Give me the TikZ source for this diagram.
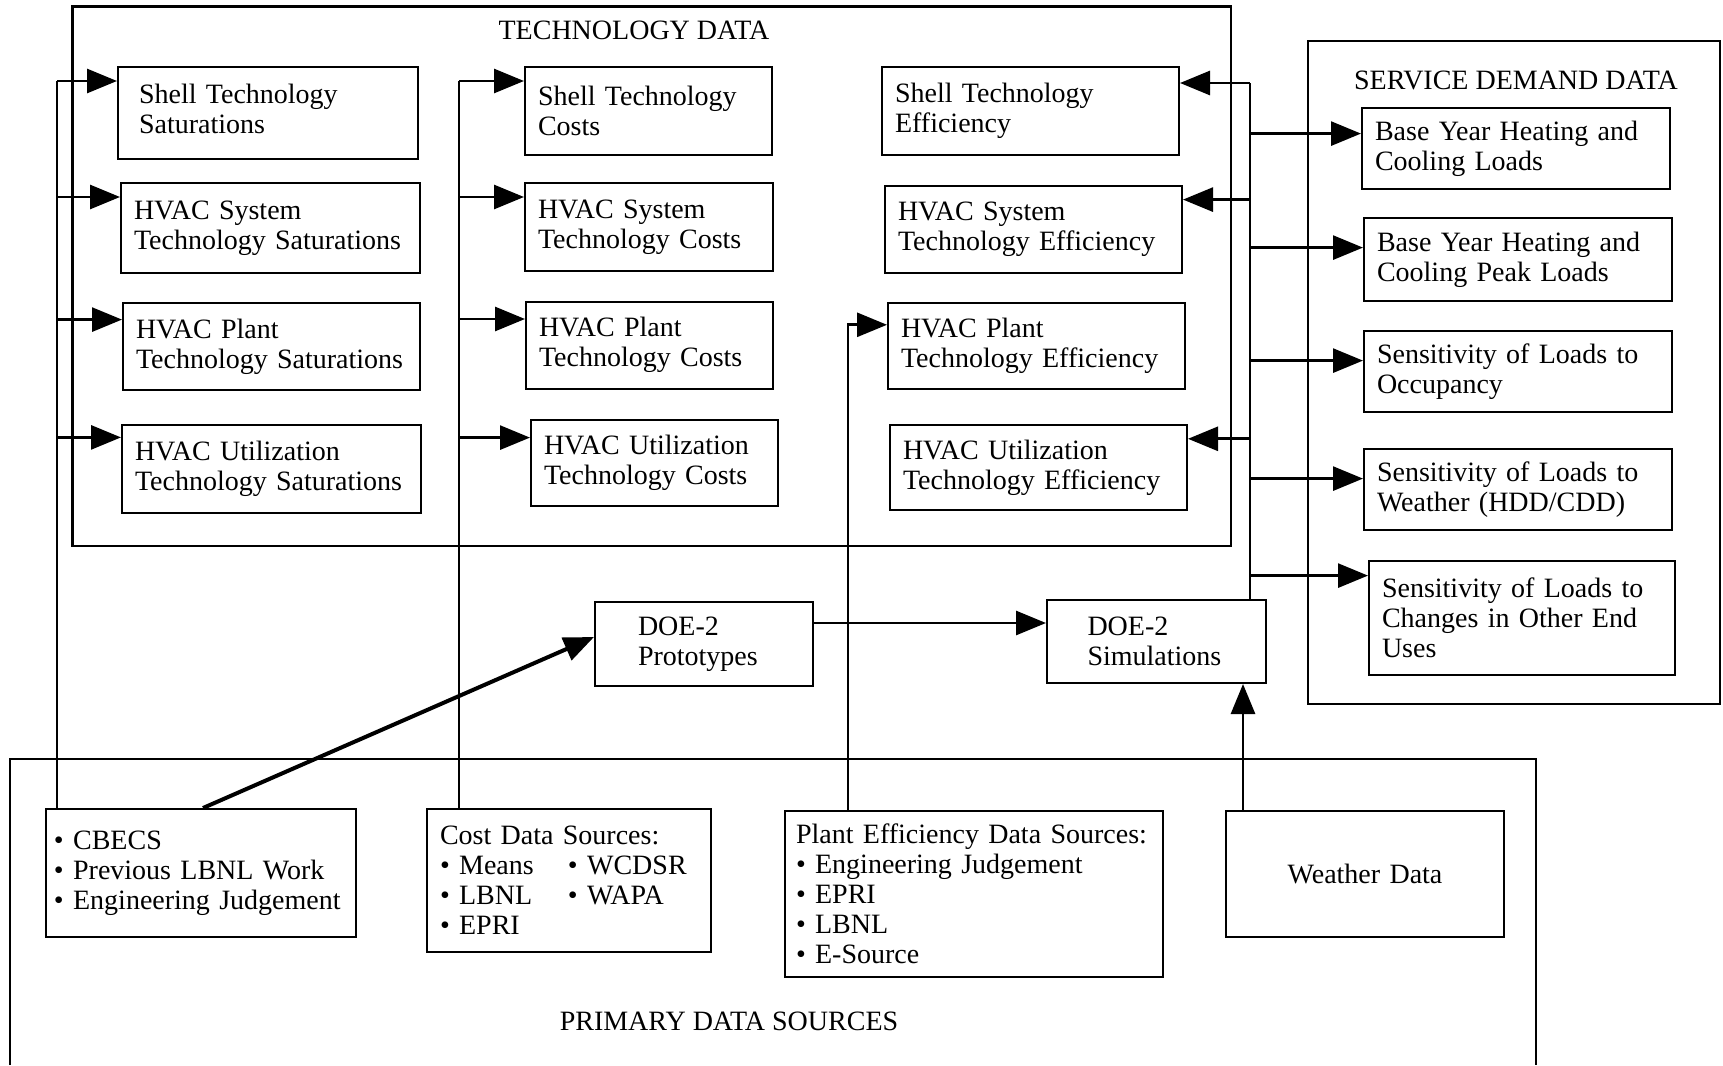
\documentclass[tikz,border=0pt]{standalone}
\usepackage{fontspec}
\setmainfont{Liberation Serif}
\usepackage{tikz}
\usetikzlibrary{arrows.meta}

\begin{document}
\begin{tikzpicture}[x=0.5pt,y=-0.5pt,
                    font=\fontsize{14}{15}\selectfont,
                    dbox/.style n args={3}{draw,line width=1pt,
                    anchor=north west,
                    inner xsep=6.5pt,inner ysep=0pt,
                    text width=#1pt,
                    minimum height=#2pt,
                    align=#3},
                    frame/.style={line width=1.3pt},
                    link/.style={line width=1.4pt},
                    arr/.style={link,-{Triangle[length=15pt,width=12pt]}}]
    \path[fill=white,use as bounding box] (0,0) rectangle (1723,1065);

    % containers
    \draw[frame] (72.5,6.6) rectangle (1231,546);
    \draw[frame] (1308,41) rectangle (1720,704);
    \draw[frame] (10,1065) |- (1536,759) -- (1536,1065);
    \node (techtitle) at (634,30) {TECHNOLOGY DATA};
    \node (sdtitle) at (1516,80) {SERVICE DEMAND DATA};
    \node (pdtitle) at (729,1021) {PRIMARY DATA SOURCES};

    % technology data
    \node[dbox={129}{46}{left},inner xsep=10.5pt] (sat1) at (117,66) {Shell Technology\\Saturations\vspace{4pt}};
    \node[dbox={136.5}{45}{left}] (sat2) at (120,182) {HVAC System\\Technology Saturations};
    \node[dbox={135.5}{43.5}{left}] (sat3) at (122,302) {HVAC Plant\\Technology Saturations};
    \node[dbox={136.5}{44}{left}] (sat4) at (121,424) {HVAC Utilization\\Technology Saturations};

    \node[dbox={110.7}{43.8}{left}] (cost1) at (524,66) {Shell Technology\\Costs};
    \node[dbox={111}{44}{left}] (cost2) at (524,182) {HVAC System\\Technology Costs};
    \node[dbox={110.5}{43.3}{left}] (cost3) at (525,301) {HVAC Plant\\Technology Costs};
    \node[dbox={110.5}{43}{left}] (cost4) at (530,419) {HVAC Utilization\\Technology Costs};

    \node[dbox={135.5}{43.8}{left}] (eff1) at (881,66) {Shell Technology\\Efficiency};
    \node[dbox={135.5}{43.3}{left}] (eff2) at (884,185) {HVAC System\\Technology Efficiency};
    \node[dbox={135.5}{43}{left}] (eff3) at (887,302) {HVAC Plant\\Technology Efficiency};
    \node[dbox={135.5}{42.5}{left}] (eff4) at (889,424) {HVAC Utilization\\Technology Efficiency};

    % service demand data
    \node[dbox={141}{40.5}{left}] (sd1) at (1361,107) {Base Year Heating and\\Cooling Loads};
    \node[dbox={141.2}{41.5}{left}] (sd2) at (1363,217) {Base Year Heating and\\Cooling Peak Loads};
    \node[dbox={141.2}{40.5}{left}] (sd3) at (1363,330) {Sensitivity of Loads to\\Occupancy};
    \node[dbox={141.2}{40.5}{left}] (sd4) at (1363,448) {Sensitivity of Loads to\\Weather (HDD/CDD)};
    \node[dbox={139.8}{56.8}{left}] (sd5) at (1368,560) {Sensitivity of Loads to\\Changes in Other End\\Uses};

    % DOE-2
    \node[dbox={66}{41.8}{left},inner xsep=21.5pt] (proto) at (594,601) {DOE-2\\Prototypes};
    \node[dbox={69}{41.5}{left},inner xsep=20.25pt] (sim) at (1046,599) {DOE-2\\Simulations};

    % primary data sources
    \node[dbox={147}{64}{left},inner xsep=4pt] (cbecs) at (45,808)
        {\textbullet\ CBECS\\\textbullet\ Previous LBNL Work\\\textbullet\ Engineering Judgement};
    \node[dbox={129}{71.5}{left}] (cost) at (426,808)
        {Cost Data Sources:\\\makebox[64pt][l]{\textbullet\ Means}\textbullet\ WCDSR\\
         \makebox[64pt][l]{\textbullet\ LBNL}\textbullet\ WAPA\\\textbullet\ EPRI};
    \node[dbox={178}{83}{left},inner xsep=5.5pt] (pe) at (784,810)
        {Plant Efficiency Data Sources:\\\textbullet\ Engineering Judgement\\\textbullet\ EPRI\\
         \textbullet\ LBNL\\\textbullet\ E-Source};
    \node[dbox={126}{63}{center}] (weather) at (1225,810) {Weather Data};

    % buses
    \coordinate (bus1) at (57,0);
    \coordinate (bus2) at (459,0);
    \coordinate (bus3) at (1250,0);
    \coordinate (bus4) at (848,0);

    \foreach \n/\s in {sat1/7.5,sat2/7.5,sat3/8.8,sat4/6.7}{
        \coordinate (in\n) at ([yshift=-\s pt]\n.north west);
        \draw[arr] (bus1 |- in\n) -- (in\n);
    }
    \draw[link] (cbecs.north -| bus1) -- (bus1 |- insat1);

    \foreach \n/\s in {cost1/7.5,cost2/7.5,cost3/9,cost4/9.3}{
        \coordinate (in\n) at ([yshift=-\s pt]\n.north west);
        \draw[arr] (bus2 |- in\n) -- (in\n);
    }
    \draw[link] (cost.north -| bus2) -- (bus2 |- incost1);

    \foreach \n/\s in {eff1/8.5,eff2/7.3,eff4/7.4}{
        \coordinate (in\n) at ([yshift=-\s pt]\n.north east);
        \draw[arr] (bus3 |- in\n) -- (in\n);
    }
    \foreach \n/\s in {sd1/13.3,sd2/15.3,sd3/15.3,sd4/15.3,sd5/7.8}{
        \coordinate (in\n) at ([yshift=-\s pt]\n.north west);
        \draw[arr] (bus3 |- in\n) -- (in\n);
    }
    \draw[link] (sim.north -| bus3) -- (bus3 |- ineff1);

    \coordinate (ineff3) at ([yshift=-11.4pt]eff3.north west);
    \draw[arr] (pe.north -| bus4) -- (bus4 |- ineff3) -- (ineff3);

    % DOE-2 links
    \coordinate (psrc) at ([yshift=-11pt]proto.north east);
    \draw[arr] (psrc) -- (psrc -| sim.west);
    \coordinate (wsrc) at ([xshift=9pt]weather.north west);
    \draw[arr] (wsrc) -- (wsrc |- sim.south);
    \coordinate (csrc) at ([xshift=79pt]cbecs.north west);
    \coordinate (pin) at ([yshift=-18pt]proto.north west);
    \draw[arr,line width=2pt] (csrc) -- (pin);
\end{tikzpicture}
\end{document}
